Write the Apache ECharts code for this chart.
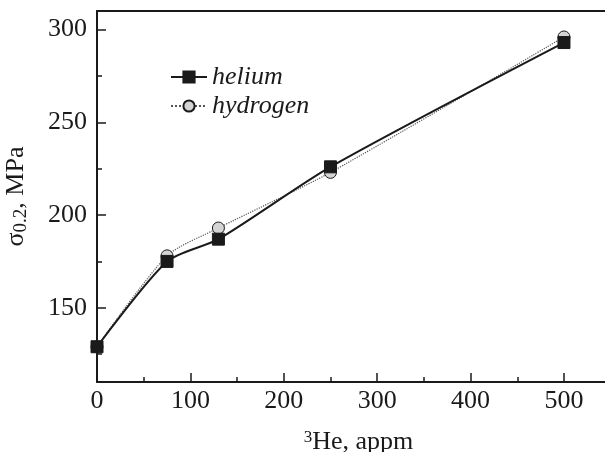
<!DOCTYPE html>
<html>
<head>
<meta charset="utf-8">
<script src="https://cdn.jsdelivr.net/npm/echarts@6/dist/echarts.min.js"></script>
<style>
  html, body { margin: 0; padding: 0; background: #fff; }
  #chart { width: 605px; height: 452px; }
</style>
</head>
<body>
<div id="chart"></div>
<script>
// 3He content, appm
var heContent = [0, 75, 130, 250, 500]
// yield stress sigma_0.2, MPa
var heliumStress = [129, 175, 187, 226, 293]
var hydrogenStress = [129, 178, 193, 223, 296]

var xMajorTicks = [0, 100, 200, 300, 400, 500]
var xMinorTicks = [50, 150, 250, 350, 450]
var yMajorTicks = [150, 200, 250, 300]
var yMinorTicks = [125, 175, 225, 275]

var font = "'Liberation Serif', 'Times New Roman', serif"
var ink = '#1a1a1a'

function pairs(xs, ys) {
  return xs.map(function (x, i) { return [x, ys[i]] })
}

var chart = echarts.init(document.getElementById('chart'))
chart.setOption({
  animation: false,
  // right edge of the plot falls outside the picture, like in the source figure
  grid: {
    left: 97, top: 11, bottom: 70, right: -15,
    outerBoundsMode: 'none', containLabel: false
  },
  legend: {
    orient: 'vertical',
    left: 165, top: 59,
    itemWidth: 36, itemHeight: 14, itemGap: 3,
    textStyle: { fontFamily: font, fontStyle: 'italic', fontSize: 26, color: ink },
    data: ['helium', 'hydrogen']
  },
  xAxis: [{
    type: 'value', min: 0, max: 560,
    axisLine: { lineStyle: { color: ink, width: 2 } },
    axisTick: { inside: true, length: 9, lineStyle: { width: 1.5, color: ink }, customValues: xMajorTicks },
    axisLabel: { customValues: xMajorTicks, margin: 6, fontFamily: font, fontSize: 26, color: ink },
    splitLine: { show: false },
    name: '{sup|3}{n|He, appm}',
    nameLocation: 'middle', nameGap: 47,
    nameTextStyle: {
      rich: {
        sup: { fontFamily: font, fontSize: 17, color: ink, verticalAlign: 'top', padding: [0, 0, 10, 0] },
        n: { fontFamily: font, fontSize: 26, color: ink }
      }
    }
  }, {
    type: 'value', min: 0, max: 560, position: 'bottom',
    axisLine: { show: false },
    axisTick: { inside: true, length: 5, lineStyle: { width: 1.5, color: ink }, customValues: xMinorTicks },
    axisLabel: { show: false },
    splitLine: { show: false }
  }, {
    // top frame line only
    type: 'value', min: 0, max: 560, position: 'top',
    axisLine: { show: true, lineStyle: { color: ink, width: 2 } },
    axisTick: { show: false },
    axisLabel: { show: false },
    splitLine: { show: false }
  }],
  yAxis: [{
    type: 'value', min: 110, max: 310,
    axisLine: { show: true, lineStyle: { color: ink, width: 2 } },
    axisTick: { show: true, inside: true, length: 9, lineStyle: { width: 1.5, color: ink }, customValues: yMajorTicks },
    axisLabel: { customValues: yMajorTicks, margin: 10, fontFamily: font, fontSize: 26, color: ink },
    splitLine: { show: false },
    name: '{n|σ}{sub|0.2}{n|, MPa}',
    nameLocation: 'middle', nameGap: 66, nameRotate: 90,
    nameTextStyle: {
      rich: {
        n: { fontFamily: font, fontSize: 26, color: ink },
        sub: { fontFamily: font, fontSize: 19, color: ink, padding: [10, 0, 0, 0] }
      }
    }
  }, {
    type: 'value', min: 110, max: 310, position: 'left',
    axisLine: { show: false },
    axisTick: { show: true, inside: true, length: 5, lineStyle: { width: 1.5, color: ink }, customValues: yMinorTicks },
    axisLabel: { show: false },
    splitLine: { show: false }
  }],
  series: [{
    name: 'hydrogen',
    type: 'line',
    smooth: 0.25,
    z: 2,
    data: pairs(heContent, hydrogenStress),
    symbol: 'circle', symbolSize: 12,
    lineStyle: { color: '#555', width: 1.2, type: 'dotted' },
    itemStyle: { color: '#d4d4d4', borderColor: ink, borderWidth: 1 }
  }, {
    name: 'helium',
    type: 'line',
    smooth: 0.25,
    z: 3,
    data: pairs(heContent, heliumStress),
    symbol: 'rect', symbolSize: 12,
    lineStyle: { color: ink, width: 2 },
    itemStyle: { color: ink, borderColor: ink, borderWidth: 1 }
  }]
})
</script>
</body>
</html>
